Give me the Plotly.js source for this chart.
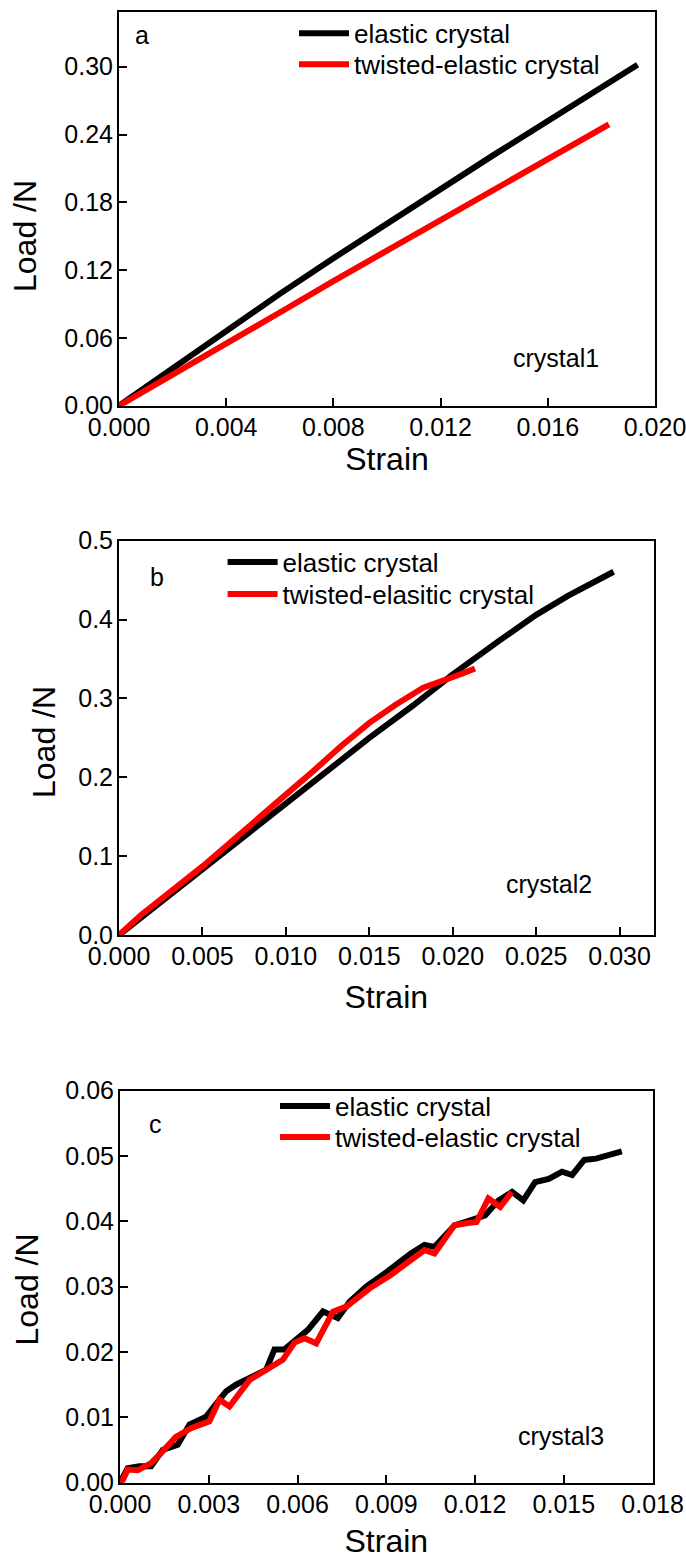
<!DOCTYPE html>
<html>
<head>
<meta charset="utf-8">
<script src="https://cdn.plot.ly/plotly-3.0.1.min.js"></script>
<style>html,body{margin:0;padding:0;background:#fff;}#chart{width:686px;height:1559px;}</style>
</head>
<body>
<div id="chart"></div>
<script>
// ---- crystal 1 ----
const strainA_elastic = [0, 0.001, 0.002, 0.004, 0.006, 0.008, 0.010, 0.012, 0.014, 0.016, 0.018, 0.01935];
const loadA_elastic   = [0, 0.0165, 0.0330, 0.0665, 0.0990, 0.1305, 0.1615, 0.1925, 0.2222, 0.2520, 0.2817, 0.3018];
const strainA_twisted = [0, 0.001, 0.002, 0.004, 0.006, 0.008, 0.010, 0.012, 0.014, 0.016, 0.01828];
const loadA_twisted   = [0, 0.0140, 0.0275, 0.0548, 0.0825, 0.1103, 0.1370, 0.1645, 0.1910, 0.2180, 0.2490];

// ---- crystal 2 ----
const strainB_elastic = [0, 0.00256, 0.005, 0.0075, 0.010, 0.01246, 0.015, 0.01762, 0.020, 0.02277, 0.025, 0.0269, 0.02834, 0.02964];
const loadB_elastic   = [0, 0.0424, 0.0826, 0.1250, 0.1670, 0.2080, 0.2500, 0.2910, 0.3305, 0.3730, 0.4060, 0.4300, 0.4470, 0.4606];
const strainB_twisted = [0, 0.00132, 0.005, 0.00751, 0.010, 0.01163, 0.01328, 0.015, 0.01658, 0.01823, 0.020, 0.02071, 0.02133];
const loadB_twisted   = [0, 0.0254, 0.0869, 0.1314, 0.1780, 0.2076, 0.2390, 0.2690, 0.2920, 0.3136, 0.3260, 0.3326, 0.3380];

// ---- crystal 3 ----
const strainC_elastic = [0, 0.00026, 0.00065, 0.00105, 0.00144, 0.00195, 0.00235, 0.00291, 0.00359, 0.00392, 0.00494, 0.00522, 0.00556, 0.00635, 0.00686, 0.00736, 0.00776, 0.00832, 0.00903, 0.00983, 0.01029, 0.01063, 0.01131, 0.01188, 0.01234, 0.01279, 0.01325, 0.01363, 0.01403, 0.01449, 0.01494, 0.01528, 0.01569, 0.01609, 0.01654, 0.01696];
const loadC_elastic   = [0, 0.0022, 0.0025, 0.0025, 0.0050, 0.0058, 0.0089, 0.0101, 0.0140, 0.0150, 0.0173, 0.0204, 0.0204, 0.0234, 0.0262, 0.0252, 0.0277, 0.0300, 0.0323, 0.0351, 0.0364, 0.0361, 0.0394, 0.0402, 0.0409, 0.0432, 0.0445, 0.0432, 0.0460, 0.0465, 0.0476, 0.0471, 0.0494, 0.0496, 0.0502, 0.0507];
const strainC_twisted = [0.00005, 0.00026, 0.0006, 0.00105, 0.00144, 0.00189, 0.0024, 0.00302, 0.00336, 0.0037, 0.00438, 0.00494, 0.0055, 0.0059, 0.00624, 0.00663, 0.0072, 0.00765, 0.0081, 0.00844, 0.00915, 0.0096, 0.01029, 0.01063, 0.0113, 0.0117, 0.01205, 0.01245, 0.01285, 0.01324];
const loadC_twisted   = [0, 0.0020, 0.0019, 0.0030, 0.0048, 0.0070, 0.00835, 0.0094, 0.0127, 0.01167, 0.01574, 0.01727, 0.0188, 0.02145, 0.0221, 0.02134, 0.02618, 0.02695, 0.02848, 0.02975, 0.0318, 0.0333, 0.0356, 0.0351, 0.0394, 0.0397, 0.0399, 0.0435, 0.0422, 0.0445];

// ---- tick labels ----
const xTicksA = ['0.000', '0.004', '0.008', '0.012', '0.016', '0.020'];
const yTicksA = ['0.00', '0.06', '0.12', '0.18', '0.24', '0.30'];
const xTicksB = ['0.000', '0.005', '0.010', '0.015', '0.020', '0.025', '0.030'];
const yTicksB = ['0.0', '0.1', '0.2', '0.3', '0.4', '0.5'];
const xTicksC = ['0.000', '0.003', '0.006', '0.009', '0.012', '0.015', '0.018'];
const yTicksC = ['0.00', '0.01', '0.02', '0.03', '0.04', '0.05', '0.06'];

const names = {
  a: ['elastic crystal', 'twisted-elastic crystal'],
  b: ['elastic crystal', 'twisted-elasitic crystal'],
  c: ['elastic crystal', 'twisted-elastic crystal']
};

const W = 686, H = 1559;
const FONT = 'Liberation Sans, Arial, sans-serif';
const px = v => v / W;           // horizontal pixel -> paper
const py = v => 1 - v / H;       // vertical pixel (from top) -> paper

function line(x, y, name, color, xa, ya, leg) {
  return {x, y, name, type: 'scatter', mode: 'lines', xaxis: xa, yaxis: ya, legend: leg,
          line: {color, width: 6, shape: 'linear'}};
}

// one legend per entry so every entry can be placed on its own
const traces = [
  line(strainA_elastic, loadA_elastic, names.a[0], '#000000', 'x', 'y', 'legend'),
  line(strainA_twisted, loadA_twisted, names.a[1], '#ff0000', 'x', 'y', 'legend2'),
  line(strainB_elastic, loadB_elastic, names.b[0], '#000000', 'x2', 'y2', 'legend3'),
  line(strainB_twisted, loadB_twisted, names.b[1], '#ff0000', 'x2', 'y2', 'legend4'),
  line(strainC_elastic, loadC_elastic, names.c[0], '#000000', 'x3', 'y3', 'legend5'),
  line(strainC_twisted, loadC_twisted, names.c[1], '#ff0000', 'x3', 'y3', 'legend6')
];

function ticksFrom(labels) { return labels.map(Number); }

function xAxis(domain, range, labels, anchor, standoff) {
  return {
    domain, range, anchor,
    tickmode: 'array', tickvals: ticksFrom(labels), ticktext: labels,
    ticks: 'inside', ticklen: 8, tickwidth: 2, tickcolor: '#000',
    showline: true, linewidth: 2, linecolor: '#000', mirror: true,
    showgrid: false, zeroline: false, automargin: false,
    ticklabelstandoff: -2, ticklabeloverflow: 'allow',
    tickfont: {family: FONT, size: 25, color: '#000'},
    title: {text: 'Strain', standoff, font: {family: FONT, size: 32, color: '#000'}}
  };
}

function yAxis(domain, range, labels, anchor) {
  return {
    domain, range, anchor,
    tickmode: 'array', tickvals: ticksFrom(labels), ticktext: labels,
    ticks: 'inside', ticklen: 8, tickwidth: 2, tickcolor: '#000',
    showline: true, linewidth: 2, linecolor: '#000', mirror: true,
    showgrid: false, zeroline: false, automargin: false,
    ticklabelstandoff: -1, ticklabeloverflow: 'allow',
    tickfont: {family: FONT, size: 25, color: '#000'}
  };
}

function legendAt(textLeft, lineY) {
  return {
    x: px(textLeft - 60), y: py(lineY - 25.5), xanchor: 'left', yanchor: 'top',
    bgcolor: 'rgba(0,0,0,0)', borderwidth: 0, itemwidth: 50,
    font: {family: FONT, size: 26, color: '#000'}
  };
}

function label(text, xPix, yPix, anchor) {
  return {text, xref: 'paper', yref: 'paper', x: px(xPix), y: py(yPix), xanchor: anchor, yanchor: 'middle',
          showarrow: false, font: {family: FONT, size: 25, color: '#000'}};
}

function yTitle(xPix, yPix) {
  return {text: 'Load /N', xref: 'paper', yref: 'paper', x: px(xPix), y: py(yPix),
          xanchor: 'center', yanchor: 'middle', textangle: -90, showarrow: false,
          font: {family: FONT, size: 32, color: '#000'}};
}

const layout = {
  width: W, height: H,
  margin: {l: 0, r: 0, t: 0, b: 0},
  paper_bgcolor: '#fff', plot_bgcolor: '#fff',
  font: {family: FONT, color: '#000'},
  xaxis:  xAxis([px(119), px(655)], [0, 0.02], xTicksA, 'y', 3),
  yaxis:  yAxis([py(405.7), py(11.7)], [0, 0.3487], yTicksA, 'x'),
  xaxis2: xAxis([px(119), px(653.5)], [0, 0.03203], xTicksB, 'y2', 17),
  yaxis2: yAxis([py(935), py(540.7)], [0, 0.5], yTicksB, 'x2'),
  xaxis3: xAxis([px(120), px(652.6)], [0, 0.018], xTicksC, 'y3', 13),
  yaxis3: yAxis([py(1482.7), py(1090.7)], [0, 0.06], yTicksC, 'x3'),
  legend:  legendAt(354, 35.3),
  legend2: legendAt(354, 66.3),
  legend3: legendAt(282.6, 564),
  legend4: legendAt(282.6, 596),
  legend5: legendAt(335, 1108),
  legend6: legendAt(335, 1139),
  showlegend: true,
  annotations: [
    yTitle(25, 236),
    yTitle(44, 742),
    yTitle(26.5, 1290),
    label('a', 133, 35, 'left'),
    label('crystal1', 601, 358, 'right'),
    label('b', 148, 577, 'left'),
    label('crystal2', 594, 884, 'right'),
    label('c', 147, 1124, 'left'),
    label('crystal3', 606, 1436, 'right')
  ]
};

Plotly.newPlot('chart', traces, layout, {staticPlot: true, displayModeBar: false});
</script>
</body>
</html>
